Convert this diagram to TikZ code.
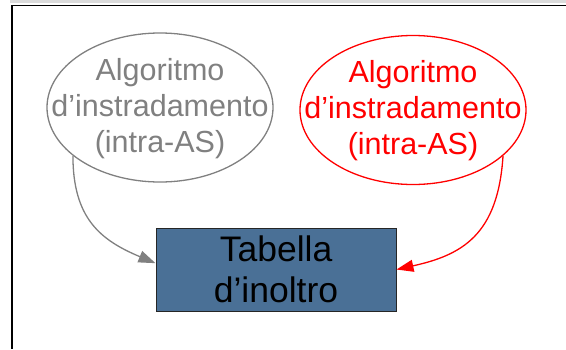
\documentclass[tikz,border=0pt]{standalone}
\usepackage{fontspec}
\setmainfont{Liberation Sans}
\usetikzlibrary{shapes,arrows.meta}
\definecolor{algogray}{RGB}{128,128,128}
\definecolor{tabblue}{RGB}{74,112,150}

\begin{document}
\begin{tikzpicture}[x=1pt,y=-1pt]
\tikzstyle{algo}=[ellipse,draw,line width=1.3pt,minimum width=226pt,minimum height=149pt,inner sep=0]
\tikzstyle{algotext}=[align=center,inner sep=0,font=\fontsize{30.5}{36}\selectfont]
\tikzstyle{feed}=[line width=1.3pt,-{Triangle[length=17pt,width=12pt]}]
\useasboundingbox (0,0) rectangle (566,349);
% page frame
\fill[black!14] (10,0) rectangle (566,3);
\draw[line width=1.6pt] (566,5.5) -- (12,5.5) -- (12,349);
% the two routing algorithms
\node[algo,algogray] (algo1) at (160,107.5) {};
\node[algotext,algogray] (algo1text) at ([yshift=-1pt]algo1.center) {Algoritmo\\d’instradamento\\(intra-AS)};
\node[algo,red] (algo2) at (413,110) {};
\node[algotext,red] (algo2text) at ([yshift=-1pt]algo2.center) {Algoritmo\\d’instradamento\\(intra-AS)};
% forwarding table
\node[draw=black!85,line width=1pt,fill=tabblue,minimum width=240pt,minimum height=83pt,align=center,
  font=\fontsize{35.5}{41}\selectfont,inner sep=0] (tab) at (276,269.5) {Tabella\\d’inoltro};
\draw[feed,algogray] (algo1.209) .. controls (73,218) and (100,240) .. (tab.177);
\draw[feed,red] (algo2.333) .. controls (498,235) and (462,255) .. (tab.east);
\end{tikzpicture}
\end{document}
